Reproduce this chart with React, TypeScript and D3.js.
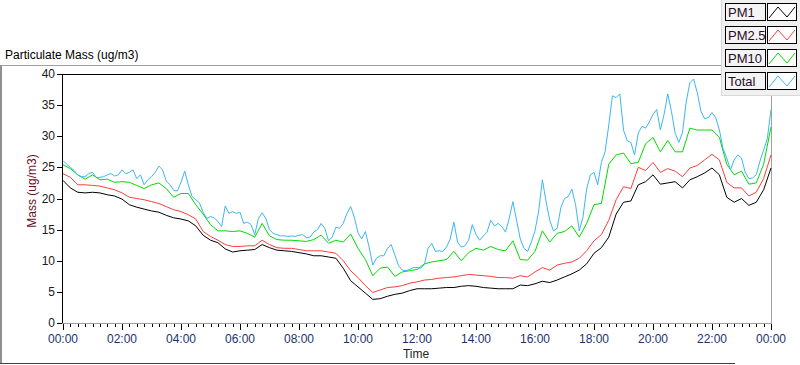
import React from "react";
import * as d3 from "d3";

// PM1, PM2.5, PM10 sampled every 15 min (0..24h)
const pm1 = [
  22.9, 21.7, 21.0, 20.9, 21.0, 20.9, 20.6, 20.4, 19.9, 19.0, 18.6, 18.3, 18.0, 17.8, 17.3, 16.9,
  16.7, 16.4, 15.6, 14.1, 13.3, 12.9, 11.9, 11.4, 11.6, 11.7, 11.8, 12.6, 12.1, 11.7, 11.6, 11.5,
  11.3, 11.1, 10.8, 10.8, 10.6, 10.4, 8.8, 6.8, 5.8, 4.8, 3.8, 3.9, 4.3, 4.6, 4.8, 5.2,
  5.5, 5.5, 5.5, 5.6, 5.7, 5.7, 5.9, 6.0, 5.9, 5.7, 5.6, 5.5, 5.5, 5.5, 6.1, 6.0,
  6.3, 6.7, 6.5, 6.9, 7.4, 7.9, 8.5, 9.5, 11.2, 12.1, 13.8, 17.5, 19.4, 19.6, 22.2, 22.7,
  23.8, 22.3, 22.5, 22.7, 21.7, 23.0, 23.5, 24.1, 24.9, 23.8, 20.2, 19.4, 20.0, 18.9, 19.4, 21.4,
  24.9,
];
const pm25 = [
  24.0, 23.4, 22.2, 22.2, 22.1, 22.0, 21.7, 21.4, 20.9, 20.2, 20.0, 19.8, 19.5, 19.2, 18.7, 18.2,
  17.9, 17.4, 16.7, 14.7, 13.9, 13.3, 12.6, 12.3, 12.3, 12.4, 12.4, 13.3, 12.6, 12.1, 12.0, 12.0,
  11.8, 11.6, 11.6, 11.6, 11.4, 11.2, 10.0, 8.4, 7.3, 6.0, 4.9, 5.3, 5.7, 5.8, 6.0, 6.4,
  6.6, 6.9, 7.0, 7.2, 7.3, 7.4, 7.6, 7.8, 7.7, 7.6, 7.5, 7.3, 7.3, 7.2, 7.6, 7.4,
  8.2, 8.9, 8.5, 9.3, 9.6, 9.8, 10.4, 11.6, 13.2, 14.2, 16.5, 19.8, 21.9, 21.6, 25.0, 24.5,
  25.8, 24.2, 24.8, 24.4, 23.5, 24.9, 25.3, 26.2, 27.1, 26.2, 22.6, 21.7, 21.7, 20.4, 21.0, 23.2,
  27.0,
];
const pm10 = [
  25.4, 24.8, 23.8, 23.1, 23.8, 23.0, 23.1, 22.6, 22.7, 22.6, 22.1, 21.6, 22.2, 22.5, 21.6, 20.2,
  20.8, 20.8, 19.0, 17.5, 15.8, 14.8, 14.8, 14.7, 14.8, 14.4, 13.8, 16.0, 14.0, 13.4, 13.3, 13.3,
  13.2, 13.1, 13.4, 14.1, 12.8, 13.3, 13.0, 14.3, 12.0, 10.2, 7.6, 8.8, 9.0, 7.5, 8.2, 8.4,
  8.6, 9.5, 9.8, 10.0, 10.2, 11.5, 10.0, 11.3, 12.0, 11.7, 12.3, 11.8, 11.6, 13.2, 10.2, 10.1,
  11.5, 14.8, 13.0, 14.4, 14.7, 15.6, 13.8, 16.0, 19.0, 19.2, 25.5, 27.0, 27.3, 25.6, 25.8, 28.8,
  29.8, 27.5, 29.3, 27.5, 27.5, 31.3, 31.0, 31.0, 31.0, 29.8, 25.5, 23.8, 24.4, 22.3, 22.5, 25.5,
  31.5,
];
// Total sampled every 7.5 min
const total = [
  26.1, 25.5, 25.0, 24.5, 23.8, 23.5, 23.5, 24.0, 24.2, 23.4, 23.4, 23.5, 23.8, 24.0, 23.6, 23.8,
  24.6, 24.0, 24.2, 24.6, 23.2, 23.8, 22.2, 23.0, 23.5, 24.2, 25.2, 24.6, 22.8, 22.2, 21.3, 21.2,
  22.6, 24.4, 22.2, 20.3, 19.8, 19.3, 17.8, 16.8, 17.1, 16.9, 16.3, 15.5, 18.8, 17.6, 17.9, 17.6,
  17.8, 16.0, 16.2, 15.8, 14.2, 16.8, 17.7, 16.8, 15.0, 14.4, 14.2, 14.0, 14.0, 13.9, 14.0, 13.9,
  14.1, 14.2, 13.7, 13.8, 14.6, 15.0, 16.0, 15.2, 13.2, 13.8, 15.4, 15.2, 16.0, 17.6, 18.7, 17.0,
  14.5, 13.5, 14.7, 12.2, 9.3, 10.4, 10.8, 10.8, 12.0, 12.6, 10.9, 9.2, 8.5, 8.4, 8.6, 8.9,
  8.9, 8.8, 9.4, 12.0, 12.8, 11.5, 11.6, 11.5, 12.2, 13.5, 16.2, 13.0, 12.2, 12.4, 13.3, 15.8,
  14.2, 13.3, 14.0, 14.6, 16.5, 15.6, 16.0, 15.5, 14.6, 16.8, 19.5, 16.5, 13.5, 12.0, 11.5, 13.0,
  14.8, 18.0, 23.0, 19.5, 16.5, 14.8, 15.2, 18.5, 20.0, 20.3, 21.5, 19.0, 14.8, 17.0, 21.5, 23.8,
  24.2, 22.2, 25.8, 27.5, 31.8, 36.5, 36.2, 36.8, 31.0, 29.3, 29.0, 27.0, 30.5, 31.6, 31.3, 32.3,
  33.5, 34.3, 31.0, 33.5, 36.8, 34.0, 30.5, 29.0, 30.6, 35.5, 38.6, 39.2, 37.0, 34.0, 32.8, 33.0,
  33.8, 33.0, 31.0, 28.0, 26.5, 24.6, 26.2, 27.0, 26.5, 24.2, 23.2, 23.3, 23.8, 26.0, 27.8, 29.6,
  34.3,
];

const yTicks = [0, 5, 10, 15, 20, 25, 30, 35, 40];
const xTickHours = [0, 2, 4, 6, 8, 10, 12, 14, 16, 18, 20, 22, 24];
const xTickLabels = ["00:00", "02:00", "04:00", "06:00", "08:00", "10:00", "12:00", "14:00", "16:00", "18:00", "20:00", "22:00", "00:00"];
const seriesNames = ["PM1", "PM2.5", "PM10", "Total"];
const seriesColors = ["#000000", "#ff3c3c", "#00dc00", "#3cb6f2"];

const W = 800;
const H = 365;
const FONT = "'Liberation Sans', Arial, sans-serif";

export default function App() {
  const x = d3.scaleLinear().domain([0, 24]).range([63, 771]);
  const y = d3.scaleLinear().domain([0, 40]).range([323, 74]);

  const mk = (vals: number[], stepH: number) =>
    d3
      .line<number>()
      .x((_, i) => x(i * stepH))
      .y((v) => y(v))(vals) || "";

  const paths = [mk(pm1, 0.25), mk(pm25, 0.25), mk(pm10, 0.25), mk(total, 0.125)];

  const minor = d3.range(0, 24.0001, 0.25).filter((h) => Math.abs(h / 2 - Math.round(h / 2)) > 1e-6);

  return (
    <svg width={W} height={H} style={{ position: "absolute", left: 0, top: 0, background: "#fff" }} fontFamily={FONT}>
      {/* outer frame */}
      <line x1={0} y1={65.5} x2={722} y2={65.5} stroke="#a0a0a0" />
      <line x1={1} y1={65} x2={1} y2={363} stroke="#909090" strokeWidth={2} />
      <line x1={0} y1={363.5} x2={735} y2={363.5} stroke="#404040" />
      <text x={5} y={59} fontSize={12} fill="#000">Particulate Mass (ug/m3)</text>

      {/* plot area */}
      <rect x={62} y={74} width={710} height={249} fill="#fff" />
      <g shapeRendering="crispEdges">
        <line x1={62} y1={74.5} x2={772} y2={74.5} stroke="#000" />
        <line x1={62.5} y1={74} x2={62.5} y2={323} stroke="#000" />
        <line x1={62} y1={323.5} x2={772} y2={323.5} stroke="#a0a0a0" />
        <line x1={771.5} y1={74} x2={771.5} y2={324} stroke="#a0a0a0" />
      </g>

      {/* y axis */}
      <g shapeRendering="crispEdges">
        {yTicks.map((t) => (
          <line key={t} x1={57} x2={62} y1={Math.round(y(t)) + 0.5} y2={Math.round(y(t)) + 0.5} stroke="#000" />
        ))}
      </g>
      {yTicks.map((t) => (
        <text key={t} x={55} y={y(t) + 4} fontSize={12} textAnchor="end" fill="#1a1a1a">
          {t}
        </text>
      ))}
      <text
        transform={`translate(36,191) rotate(-90)`}
        fontSize={12}
        textAnchor="middle"
        fill="#6b0f1f"
      >
        Mass (ug/m3)
      </text>

      {/* x axis */}
      <g shapeRendering="crispEdges">
        {xTickHours.map((h) => (
          <line key={h} x1={Math.round(x(h)) + 0.5} x2={Math.round(x(h)) + 0.5} y1={324} y2={330} stroke="#000" />
        ))}
        {minor.map((h) => (
          <line key={h} x1={Math.round(x(h)) + 0.5} x2={Math.round(x(h)) + 0.5} y1={324} y2={327} stroke="#000" />
        ))}
      </g>
      {xTickHours.map((h, i) => (
        <text key={i} x={x(h)} y={343} fontSize={12} textAnchor="middle" fill="#1c3370">
          {xTickLabels[i]}
        </text>
      ))}
      <text x={416} y={358} fontSize={12} textAnchor="middle" fill="#222">Time</text>

      {/* series */}
      <g fill="none" strokeWidth={1}>
        {paths.map((d, i) => (
          <path key={i} d={d} stroke={seriesColors[i]} />
        ))}
      </g>

      {/* legend */}
      <rect x={721} y={0} width={79} height={95} fill="#f0f0f0" />
      <line x1={721.5} y1={0} x2={721.5} y2={95} stroke="#d8d8d8" />
      <line x1={721} y1={95.5} x2={800} y2={95.5} stroke="#d8d8d8" />
      {seriesNames.map((n, i) => {
        const top = 3 + i * 23;
        return (
          <g key={n}>
            <rect x={725.5} y={top + 0.5} width={40} height={17} fill="#f4f4f4" stroke="#000" shapeRendering="crispEdges" />
            <text x={728} y={top + 14} fontSize={13} fill="#2a0a2a">{n}</text>
            <rect x={767.5} y={top + 0.5} width={29} height={17} fill="#fff" stroke="#000" shapeRendering="crispEdges" />
            <polyline
              points={`${769},${top + 15} ${778},${top + 4} ${787},${top + 14} ${795},${top + 4}`}
              fill="none"
              stroke={seriesColors[i]}
            />
          </g>
        );
      })}
    </svg>
  );
}
